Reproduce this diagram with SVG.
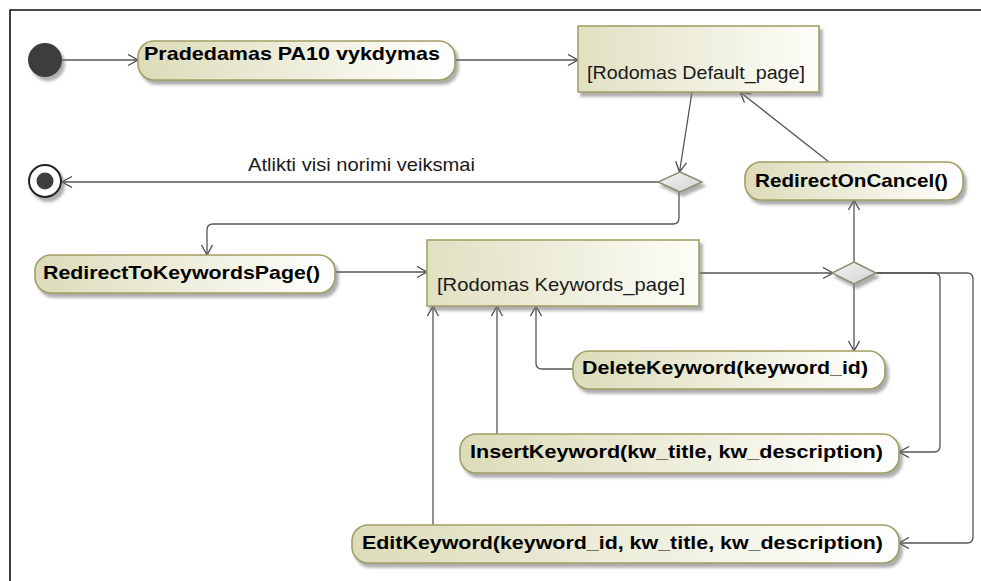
<svg xmlns="http://www.w3.org/2000/svg" width="981" height="581" viewBox="0 0 981 581">
  <defs>
    <linearGradient id="actFill" x1="0" y1="0" x2="1" y2="0">
      <stop offset="0" stop-color="#dcdcb9"/>
      <stop offset="1" stop-color="#ffffff"/>
    </linearGradient>
    <linearGradient id="stateFill" x1="0" y1="0" x2="1" y2="0">
      <stop offset="0" stop-color="#e0e0c2"/>
      <stop offset="1" stop-color="#fdfdf8"/>
    </linearGradient>
    <linearGradient id="decFill" x1="0" y1="0" x2="1" y2="1">
      <stop offset="0" stop-color="#f4f4f4"/>
      <stop offset="1" stop-color="#d2d2d2"/>
    </linearGradient>
    <filter id="shadow" x="-10%" y="-20%" width="125%" height="150%">
      <feDropShadow dx="3" dy="4" stdDeviation="1.6" flood-color="#777" flood-opacity="0.6"/>
    </filter>
    <marker id="arrow" markerUnits="userSpaceOnUse" markerWidth="14" markerHeight="14" refX="11" refY="6" orient="auto">
      <path d="M1,0.5 L11,6 L1,11.5" fill="none" stroke="#4a4a4a" stroke-width="1.3"/>
    </marker>
  </defs>
  <style>
    .act { fill: url(#actFill); stroke: #a19e64; stroke-width: 1.6; filter: url(#shadow); }
    .state { fill: url(#stateFill); stroke: #a4a16a; stroke-width: 1.6; filter: url(#shadow); }
    .dec { fill: url(#decFill); stroke: #8c8c70; stroke-width: 1.4; filter: url(#shadow); }
    .bold { font-family: "Liberation Sans", Arial, sans-serif; font-size: 19px; font-weight: bold; fill: #000; }
    .reg { font-family: "Liberation Sans", Arial, sans-serif; font-size: 19px; fill: #1a1a1a; }
    .edge { fill: none; stroke: #555; stroke-width: 1.3; marker-end: url(#arrow); }
  </style>

  <rect width="981" height="581" fill="#fff"/>
  <!-- diagram frame -->
  <path d="M10,581 V10 H981" fill="none" stroke="#111" stroke-width="1.6"/>

  <!-- connectors -->
  <g id="connectors">
    <path class="edge" d="M62,60 H138"/>
    <path class="edge" d="M455,60 H578"/>
    <path class="edge" d="M692,92 L679.5,172"/>
    <path class="edge" d="M658,182 H62"/>
    <text class="reg" x="248" y="171" textLength="227" lengthAdjust="spacingAndGlyphs">Atlikti visi norimi veiksmai</text>
    <path class="edge" d="M679,192 V218 Q679,224 673,224 H213 Q207,224 207,230 V255"/>
    <path class="edge" d="M829,162 L740,92"/>
    <path class="edge" d="M335,272 H427"/>
    <path class="edge" d="M699,273 H833"/>
    <path class="edge" d="M854,262 V200"/>
    <path class="edge" d="M854,284 V351"/>
    <path class="edge" d="M573,369 H542 Q536,369 536,363 V306"/>
    <path class="edge" d="M875,273 H934 Q940,273 940,279 V446 Q940,452 934,452 H899"/>
    <path class="edge" d="M875,273 H967 Q973,273 973,279 V537 Q973,543 967,543 H899"/>
    <path class="edge" d="M497,434 V306"/>
    <path class="edge" d="M433,525 V306"/>
  </g>

  <!-- initial node -->
  <g id="initial">
    <circle cx="45" cy="60" r="17" fill="#3d3d3d" filter="url(#shadow)"/>
  </g>

  <!-- final node -->
  <g id="final">
    <circle cx="45" cy="181" r="16" fill="#fff" stroke="#222" stroke-width="2" filter="url(#shadow)"/>
    <circle cx="45" cy="181" r="8.5" fill="#3d3d3d"/>
  </g>

  <g id="start-action">
    <rect class="act" x="138" y="41" width="317" height="39" rx="16"/>
    <text class="bold" x="144" y="60" textLength="296" lengthAdjust="spacingAndGlyphs">Pradedamas PA10 vykdymas</text>
  </g>

  <g id="default-page">
    <rect class="state" x="578" y="26" width="241" height="66"/>
    <text class="reg" x="587" y="79" textLength="218" lengthAdjust="spacingAndGlyphs">[Rodomas Default_page]</text>
  </g>

  <g id="decision-1">
    <polygon class="dec" points="680,172 702,182 680,192 658,182"/>
  </g>

  <g id="redirect-on-cancel">
    <rect class="act" x="745" y="162" width="218" height="38" rx="16"/>
    <text class="bold" x="755" y="187" textLength="193" lengthAdjust="spacingAndGlyphs">RedirectOnCancel()</text>
  </g>

  <g id="redirect-to-keywords">
    <rect class="act" x="35" y="255" width="300" height="38" rx="16"/>
    <text class="bold" x="43" y="279" textLength="277" lengthAdjust="spacingAndGlyphs">RedirectToKeywordsPage()</text>
  </g>

  <g id="keywords-page">
    <rect class="state" x="427" y="240" width="272" height="66"/>
    <text class="reg" x="437" y="291" textLength="248" lengthAdjust="spacingAndGlyphs">[Rodomas Keywords_page]</text>
  </g>

  <g id="decision-2">
    <polygon class="dec" points="854,262 876,273 854,284 832,273"/>
  </g>

  <g id="delete-keyword">
    <rect class="act" x="573" y="351" width="312" height="38" rx="16"/>
    <text class="bold" x="582" y="374" textLength="286" lengthAdjust="spacingAndGlyphs">DeleteKeyword(keyword_id)</text>
  </g>

  <g id="insert-keyword">
    <rect class="act" x="460" y="434" width="439" height="39" rx="16"/>
    <text class="bold" x="470" y="458" textLength="413" lengthAdjust="spacingAndGlyphs">InsertKeyword(kw_title, kw_description)</text>
  </g>

  <g id="edit-keyword">
    <rect class="act" x="352" y="525" width="547" height="38" rx="16"/>
    <text class="bold" x="362" y="549" textLength="521" lengthAdjust="spacingAndGlyphs">EditKeyword(keyword_id, kw_title, kw_description)</text>
  </g>
</svg>
